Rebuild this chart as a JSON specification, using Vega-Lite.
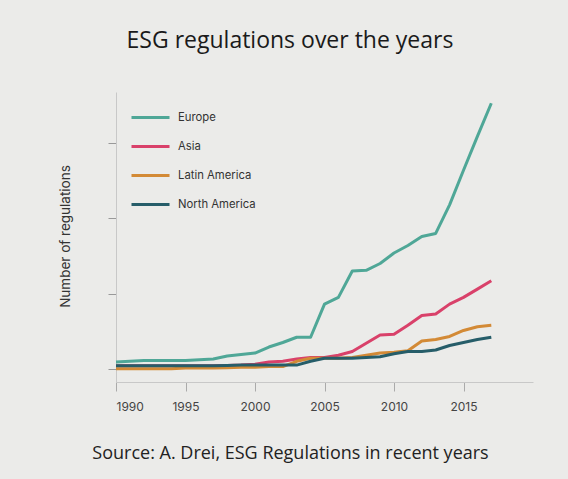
{
  "$schema": "https://vega.github.io/schema/vega-lite/v6.json",
  "width": 417,
  "height": 290,
  "autosize": {"type": "none"},
  "padding": {"left": 116, "top": 92, "right": 35, "bottom": 97},
  "background": "#ebebe9",
  "title": {
    "text": "ESG regulations over the years",
    "anchor": "middle",
    "frame": "group",
    "dx": -34.5,
    "offset": 21,
    "baseline": "alphabetic",
    "font": "Open Sans",
    "fontSize": 23,
    "fontWeight": "normal",
    "color": "#1a1a1a"
  },
  "config": {
    "view": {"stroke": null},
    "axis": {"grid": false, "domainWidth": 1}
  },
  "data": {
    "values": [
      {"year": 1990, "region": "Europe", "value": 0.9},
      {"year": 1991, "region": "Europe", "value": 1.0},
      {"year": 1992, "region": "Europe", "value": 1.1},
      {"year": 1993, "region": "Europe", "value": 1.1},
      {"year": 1994, "region": "Europe", "value": 1.1},
      {"year": 1995, "region": "Europe", "value": 1.1},
      {"year": 1996, "region": "Europe", "value": 1.2},
      {"year": 1997, "region": "Europe", "value": 1.3},
      {"year": 1998, "region": "Europe", "value": 1.7},
      {"year": 1999, "region": "Europe", "value": 1.9},
      {"year": 2000, "region": "Europe", "value": 2.1},
      {"year": 2001, "region": "Europe", "value": 2.9},
      {"year": 2002, "region": "Europe", "value": 3.5},
      {"year": 2003, "region": "Europe", "value": 4.2},
      {"year": 2004, "region": "Europe", "value": 4.2},
      {"year": 2005, "region": "Europe", "value": 8.6},
      {"year": 2006, "region": "Europe", "value": 9.5},
      {"year": 2007, "region": "Europe", "value": 13.0},
      {"year": 2008, "region": "Europe", "value": 13.1},
      {"year": 2009, "region": "Europe", "value": 14.0},
      {"year": 2010, "region": "Europe", "value": 15.4},
      {"year": 2011, "region": "Europe", "value": 16.4},
      {"year": 2012, "region": "Europe", "value": 17.6},
      {"year": 2013, "region": "Europe", "value": 18.0},
      {"year": 2014, "region": "Europe", "value": 21.8},
      {"year": 2015, "region": "Europe", "value": 26.4},
      {"year": 2016, "region": "Europe", "value": 30.9},
      {"year": 2017, "region": "Europe", "value": 35.3},
      {"year": 1990, "region": "Asia", "value": 0.4},
      {"year": 1991, "region": "Asia", "value": 0.4},
      {"year": 1992, "region": "Asia", "value": 0.4},
      {"year": 1993, "region": "Asia", "value": 0.4},
      {"year": 1994, "region": "Asia", "value": 0.4},
      {"year": 1995, "region": "Asia", "value": 0.4},
      {"year": 1996, "region": "Asia", "value": 0.4},
      {"year": 1997, "region": "Asia", "value": 0.4},
      {"year": 1998, "region": "Asia", "value": 0.45},
      {"year": 1999, "region": "Asia", "value": 0.5},
      {"year": 2000, "region": "Asia", "value": 0.6},
      {"year": 2001, "region": "Asia", "value": 0.9},
      {"year": 2002, "region": "Asia", "value": 1.0},
      {"year": 2003, "region": "Asia", "value": 1.3},
      {"year": 2004, "region": "Asia", "value": 1.5},
      {"year": 2005, "region": "Asia", "value": 1.5},
      {"year": 2006, "region": "Asia", "value": 1.8},
      {"year": 2007, "region": "Asia", "value": 2.3},
      {"year": 2008, "region": "Asia", "value": 3.4},
      {"year": 2009, "region": "Asia", "value": 4.5},
      {"year": 2010, "region": "Asia", "value": 4.6},
      {"year": 2011, "region": "Asia", "value": 5.8},
      {"year": 2012, "region": "Asia", "value": 7.1},
      {"year": 2013, "region": "Asia", "value": 7.3},
      {"year": 2014, "region": "Asia", "value": 8.6},
      {"year": 2015, "region": "Asia", "value": 9.5},
      {"year": 2016, "region": "Asia", "value": 10.6},
      {"year": 2017, "region": "Asia", "value": 11.7},
      {"year": 1990, "region": "Latin America", "value": 0.0},
      {"year": 1991, "region": "Latin America", "value": 0.0},
      {"year": 1992, "region": "Latin America", "value": 0.0},
      {"year": 1993, "region": "Latin America", "value": 0.0},
      {"year": 1994, "region": "Latin America", "value": 0.0},
      {"year": 1995, "region": "Latin America", "value": 0.1},
      {"year": 1996, "region": "Latin America", "value": 0.1},
      {"year": 1997, "region": "Latin America", "value": 0.1},
      {"year": 1998, "region": "Latin America", "value": 0.15},
      {"year": 1999, "region": "Latin America", "value": 0.2},
      {"year": 2000, "region": "Latin America", "value": 0.2},
      {"year": 2001, "region": "Latin America", "value": 0.3},
      {"year": 2002, "region": "Latin America", "value": 0.3},
      {"year": 2003, "region": "Latin America", "value": 1.0},
      {"year": 2004, "region": "Latin America", "value": 1.4},
      {"year": 2005, "region": "Latin America", "value": 1.4},
      {"year": 2006, "region": "Latin America", "value": 1.4},
      {"year": 2007, "region": "Latin America", "value": 1.5},
      {"year": 2008, "region": "Latin America", "value": 1.8},
      {"year": 2009, "region": "Latin America", "value": 2.1},
      {"year": 2010, "region": "Latin America", "value": 2.2},
      {"year": 2011, "region": "Latin America", "value": 2.4},
      {"year": 2012, "region": "Latin America", "value": 3.7},
      {"year": 2013, "region": "Latin America", "value": 3.9},
      {"year": 2014, "region": "Latin America", "value": 4.3},
      {"year": 2015, "region": "Latin America", "value": 5.1},
      {"year": 2016, "region": "Latin America", "value": 5.6},
      {"year": 2017, "region": "Latin America", "value": 5.8},
      {"year": 1990, "region": "North America", "value": 0.4},
      {"year": 1991, "region": "North America", "value": 0.4},
      {"year": 1992, "region": "North America", "value": 0.4},
      {"year": 1993, "region": "North America", "value": 0.4},
      {"year": 1994, "region": "North America", "value": 0.4},
      {"year": 1995, "region": "North America", "value": 0.4},
      {"year": 1996, "region": "North America", "value": 0.4},
      {"year": 1997, "region": "North America", "value": 0.4},
      {"year": 1998, "region": "North America", "value": 0.45},
      {"year": 1999, "region": "North America", "value": 0.5},
      {"year": 2000, "region": "North America", "value": 0.5},
      {"year": 2001, "region": "North America", "value": 0.5},
      {"year": 2002, "region": "North America", "value": 0.5},
      {"year": 2003, "region": "North America", "value": 0.5},
      {"year": 2004, "region": "North America", "value": 1.0},
      {"year": 2005, "region": "North America", "value": 1.4},
      {"year": 2006, "region": "North America", "value": 1.4},
      {"year": 2007, "region": "North America", "value": 1.4},
      {"year": 2008, "region": "North America", "value": 1.5},
      {"year": 2009, "region": "North America", "value": 1.6},
      {"year": 2010, "region": "North America", "value": 2.0},
      {"year": 2011, "region": "North America", "value": 2.3},
      {"year": 2012, "region": "North America", "value": 2.3},
      {"year": 2013, "region": "North America", "value": 2.5},
      {"year": 2014, "region": "North America", "value": 3.1},
      {"year": 2015, "region": "North America", "value": 3.5},
      {"year": 2016, "region": "North America", "value": 3.9},
      {"year": 2017, "region": "North America", "value": 4.2}
    ]
  },
  "mark": {"type": "line", "strokeWidth": 3, "strokeJoin": "round"},
  "encoding": {
    "x": {
      "field": "year",
      "type": "quantitative",
      "scale": {"domain": [1990, 2020], "nice": false, "zero": false},
      "axis": {
        "values": [1990, 1995, 2000, 2005, 2010, 2015],
        "format": "d",
        "domainColor": "#c8c8c8",
        "tickColor": "#aaaaaa",
        "tickSize": 9,
        "labelFont": "Inter",
        "labelFontSize": 12,
        "labelColor": "#444444",
        "labelPadding": 10,
        "title": "Source: A. Drei, ESG Regulations in recent years",
        "titleFont": "Open Sans",
        "titleFontSize": 18,
        "titleFontWeight": "normal",
        "titleColor": "#222222",
        "titleX": 174,
        "titleY": 76,
        "titleAlign": "center",
        "titleBaseline": "alphabetic"
      }
    },
    "y": {
      "field": "value",
      "type": "quantitative",
      "scale": {"domain": [-1.75, 36.8], "nice": false, "zero": false},
      "axis": {
        "values": [0, 10, 20, 30],
        "labels": false,
        "domainColor": "#c8c8c8",
        "tickColor": "#999999",
        "tickSize": 8,
        "title": "Number of regulations",
        "titleFont": "Inter",
        "titleFontSize": 13.5,
        "titleFontWeight": "normal",
        "titleColor": "#333333",
        "titleX": -47,
        "titleY": 144,
        "titleAngle": -90,
        "titleAlign": "center",
        "titleBaseline": "alphabetic"
      }
    },
    "color": {
      "field": "region",
      "type": "nominal",
      "sort": ["Europe", "Asia", "Latin America", "North America"],
      "scale": {
        "domain": ["Europe", "Asia", "Latin America", "North America"],
        "range": ["#4fa797", "#d9416a", "#d38a36", "#265d69"]
      },
      "legend": {
        "title": null,
        "orient": "none",
        "legendX": 14,
        "legendY": 5,
        "padding": 0,
        "symbolType": "stroke",
        "symbolSize": 1444,
        "symbolStrokeWidth": 3,
        "rowPadding": 2,
        "labelOffset": 7,
        "labelFont": "Inter",
        "labelFontSize": 11.3,
        "labelColor": "#333333"
      }
    }
  }
}
